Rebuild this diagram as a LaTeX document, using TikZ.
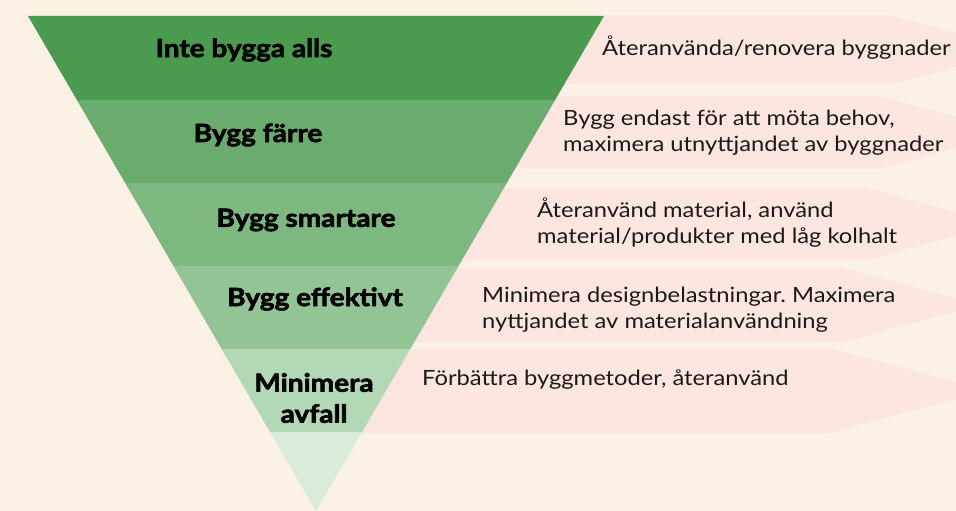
\documentclass[tikz,border=0pt]{standalone}
\usepackage{fontspec}
\setmainfont{Lato}[FakeStretch=1.13]
\newfontfamily\heavy[BoldFeatures={FakeBold=2.5,FakeStretch=1.12}]{Lato}
\frenchspacing
\definecolor{bgc}{HTML}{FBF1E4}
\definecolor{pinkc}{HTML}{FDE6DF}
\definecolor{gA}{HTML}{4A9A4F}
\definecolor{gB}{HTML}{6AAB6E}
\definecolor{gC}{HTML}{7DB880}
\definecolor{gD}{HTML}{93C495}
\definecolor{gE}{HTML}{B3D8B5}
\definecolor{gF}{HTML}{D9EBDB}
\definecolor{txt}{HTML}{1A1A1A}
\begin{document}
\begin{tikzpicture}[x=1pt,y=-1pt,
  lbl/.style={font=\heavy\bfseries\fontsize{25}{31}\selectfont, text=black, align=center, inner sep=0pt},
  desc/.style={font=\fontsize{21}{26}\selectfont, text=txt, align=left, anchor=west, inner sep=0pt},
  arr/.style={fill=pinkc}]
\useasboundingbox (0,0) rectangle (956,511);
\clip (0,0) rectangle (956,511);
\fill[bgc] (0,0) rectangle (956,511);
% pink arrows
\fill[arr] (300,16) -- (893,16) -- (1019,50) -- (893,84) -- (300,84) -- cycle;
\fill[arr] (300,97) -- (883,97) -- (1014,132.5) -- (883,168) -- (300,168) -- cycle;
\fill[arr] (300,188) -- (867,188) -- (1000,224) -- (867,260) -- (300,260) -- cycle;
\fill[arr] (300,268) -- (843,268) -- (980,305) -- (843,342) -- (300,342) -- cycle;
\fill[arr] (300,348) -- (830,348) -- (987,390.5) -- (830,433) -- (300,433) -- cycle;
% inverted triangle bands
\fill[gA] (28,16) -- (604,16) -- (555.1,100) -- (76.9,100) -- cycle;
\fill[gB] (76.9,100) -- (555.1,100) -- (506.8,183) -- (125.2,183) -- cycle;
\fill[gC] (125.2,183) -- (506.8,183) -- (458.5,266) -- (173.5,266) -- cycle;
\fill[gD] (173.5,266) -- (458.5,266) -- (410.3,349) -- (221.7,349) -- cycle;
\fill[gE] (221.7,349) -- (410.3,349) -- (362,432) -- (270,432) -- cycle;
\fill[gF] (270,432) -- (362,432) -- (316,511) -- cycle;
% labels
\node[lbl] (l1) at (244,50) {Inte bygga alls};
\node[lbl] (l2) at (258,135) {Bygg färre};
\node[lbl] (l3) at (306,220) {Bygg smartare};
\node[lbl] (l4) at (315,299) {Bygg effektivt};
\node[lbl] (l5) at (314,398) {Minimera\\avfall};
% descriptions
\node[desc] (d1) at (602,48) {Återanvända/renovera byggnader};
\node[desc] (d2) at (563,133) {Bygg endast för att möta behov,\\maximera utnyttjandet av byggnader};
\node[desc] (d3) at (537,223) {Återanvänd material, använd\\material/produkter med låg kolhalt};
\node[desc] (d4) at (482,310) {Minimera designbelastningar. Maximera\\nyttjandet av materialanvändning};
\node[desc] (d5) at (422,380) {Förbättra byggmetoder, återanvänd};
\end{tikzpicture}
\end{document}
